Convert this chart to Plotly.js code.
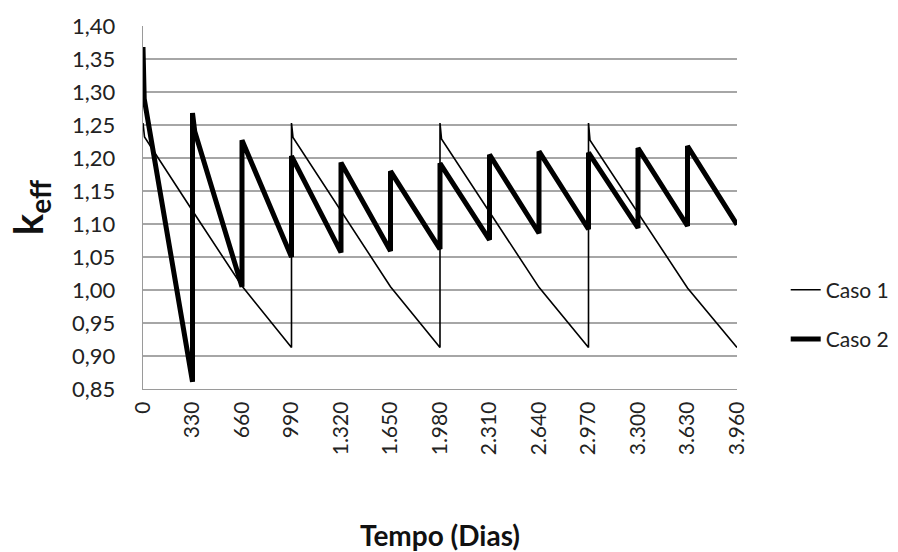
<!DOCTYPE html>
<html>
<head>
<meta charset="utf-8">
<script src="https://cdn.plot.ly/plotly-3.0.1.min.js"></script>
<style>
  html, body { margin: 0; padding: 0; background: #ffffff; }
  #chart { width: 898px; height: 552px; }
</style>
</head>
<body>
<div id="chart"></div>
<script>
// Caso 1: 990-day cycles
const caso1Days = [
  0, 10, 330, 660, 990,
  990, 1000, 1320, 1650, 1980,
  1980, 1990, 2310, 2640, 2970,
  2970, 2980, 3300, 3630, 3960
];
const caso1Keff = [
  1.253, 1.232, 1.120, 1.006, 0.913,
  1.253, 1.231, 1.119, 1.005, 0.913,
  1.253, 1.229, 1.118, 1.004, 0.913,
  1.253, 1.227, 1.117, 1.003, 0.913
];

// Caso 2: 330-day cycles
const caso2Days = [
  0, 8, 330,
  330, 345, 660,
  660, 990,
  990, 1320,
  1320, 1650,
  1650, 1980,
  1980, 2310,
  2310, 2640,
  2640, 2970,
  2970, 3300,
  3300, 3630,
  3630, 3960
];
const caso2Keff = [
  1.368, 1.290, 0.861,
  1.268, 1.240, 1.005,
  1.227, 1.050,
  1.203, 1.057,
  1.193, 1.059,
  1.180, 1.062,
  1.192, 1.076,
  1.205, 1.086,
  1.210, 1.092,
  1.208, 1.094,
  1.215, 1.097,
  1.218, 1.099
];

const seriesNames = ["Caso 1", "Caso 2"];
const xTickStep = 330;
const yTickStep = 0.05;

const FONT = "Lato, 'Open Sans', sans-serif";

const traces = [
  {
    x: caso1Days, y: caso1Keff, name: seriesNames[0], legendgroup: "a",
    type: "scatter", mode: "lines",
    line: { color: "#000000", width: 1.6 }
  },
  {
    x: caso2Days, y: caso2Keff, name: seriesNames[1], legendgroup: "b",
    type: "scatter", mode: "lines",
    line: { color: "#000000", width: 5 }
  }
];

const layout = {
  width: 898, height: 552,
  margin: { l: 143, r: 161, t: 26, b: 163, autoexpand: false },
  paper_bgcolor: "#ffffff", plot_bgcolor: "#ffffff",
  separators: ",.",
  font: { family: FONT, size: 21, color: "#222222" },
  showlegend: true,
  legend: {
    x: 1.082, y: 0.205, xanchor: "left", yanchor: "middle",
    traceorder: "grouped", tracegroupgap: 19,
    font: { family: FONT, size: 21, color: "#222222" },
    bgcolor: "rgba(0,0,0,0)"
  },
  xaxis: {
    range: [0, 3960], tick0: 0, dtick: xTickStep,
    tickformat: ",d", tickangle: -90,
    showgrid: false, zeroline: false,
    showline: true, linecolor: "#9a9a9a", linewidth: 1.2,
    ticks: "", ticklabelstandoff: 3,
    tickfont: { family: FONT, size: 21, color: "#222222" },
    title: { text: "<b>Tempo (Dias)</b>", font: { family: FONT, size: 28, color: "#111111" }, standoff: 78 }
  },
  yaxis: {
    range: [0.85, 1.40], tick0: 0.85, dtick: yTickStep,
    tickformat: ".2f",
    showgrid: true, gridcolor: "#a6a6a6", gridwidth: 1.3,
    zeroline: false,
    showline: true, linecolor: "#9a9a9a", linewidth: 1.2,
    ticks: "", ticklabelstandoff: 22,
    tickfont: { family: FONT, size: 22, color: "#222222" },
    title: { text: "<b>k<sub>eff</sub></b>", font: { family: FONT, size: 40, color: "#111111" }, standoff: 16 }
  }
};

Plotly.newPlot("chart", traces, layout, { displayModeBar: false, staticPlot: true });
</script>
</body>
</html>
